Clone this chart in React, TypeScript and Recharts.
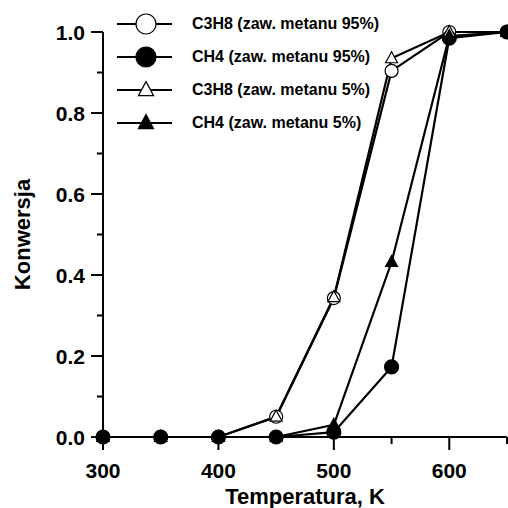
import React from 'react';
import { LineChart, Line, XAxis, YAxis, Legend } from 'recharts';

const temperatures = [300, 350, 400, 450, 500, 550, 600, 650];
const c3h8Met95 = [0, 0, 0, 0.05, 0.343, 0.904, 1.0, 1.0];
const ch4Met95 = [0, 0, 0, 0, 0.012, 0.173, 0.985, 1.0];
const c3h8Met5 = [0, 0, 0, 0.05, 0.345, 0.935, 1.0, 1.0];
const ch4Met5 = [0, 0, 0, 0, 0.03, 0.432, 0.99, 1.0];

const xTicks = [300, 350, 400, 450, 500, 550, 600, 650];
const xLabeled = [300, 400, 500, 600];
const yTicks = [0, 0.1, 0.2, 0.3, 0.4, 0.5, 0.6, 0.7, 0.8, 0.9, 1.0];
const yLabeled = [0, 0.2, 0.4, 0.6, 0.8, 1.0];

const seriesNames = [
  'C3H8 (zaw. metanu 95%)',
  'CH4 (zaw. metanu 95%)',
  'C3H8 (zaw. metanu 5%)',
  'CH4 (zaw. metanu 5%)',
];
const seriesKeys = ['c3h8_95', 'ch4_95', 'c3h8_5', 'ch4_5'];
const seriesShapes = ['circle', 'circle', 'triangle', 'triangle'];
const seriesFilled = [false, true, false, true];

const data = temperatures.map((t, i) => ({
  t,
  c3h8_95: c3h8Met95[i],
  ch4_95: ch4Met95[i],
  c3h8_5: c3h8Met5[i],
  ch4_5: ch4Met5[i],
}));

const FONT = '"Liberation Sans", Arial, Helvetica, sans-serif';

function Marker({ cx, cy, shape, filled, size }: any) {
  const fill = filled ? '#000' : '#fff';
  if (shape === 'circle') {
    return <circle cx={cx} cy={cy} r={size} fill={fill} stroke="#000" strokeWidth={1.2} />;
  }
  const h = size * 1.75;
  const w = size * 1.9;
  const pts = `${cx},${cy - h * 0.6} ${cx - w / 2},${cy + h * 0.4} ${cx + w / 2},${cy + h * 0.4}`;
  return <polygon points={pts} fill={fill} stroke="#000" strokeWidth={1.2} />;
}

const makeDot = (shape: string, filled: boolean) => (props: any) => {
  const { cx, cy, index } = props;
  return (
    <g key={`d-${shape}-${filled}-${index}`}>
      <Marker cx={cx} cy={cy} shape={shape} filled={filled} size={shape === 'circle' ? (filled ? 7 : 6.5) : 6.3} />
    </g>
  );
};

const XTick = (props: any) => {
  const { x, y, payload } = props;
  const v = payload.value;
  const major = xLabeled.includes(v);
  return (
    <g>
      <line x1={x} x2={x} y1={y} y2={y + (major ? 13 : 7)} stroke="#000" strokeWidth={2} />
      {major && (
        <text x={x} y={y + 41} textAnchor="middle" fontSize={21} fontWeight="bold" fontFamily={FONT} fill="#000">
          {v}
        </text>
      )}
    </g>
  );
};

const YTick = (props: any) => {
  const { x, y, payload } = props;
  const v = payload.value;
  const major = yLabeled.some((l) => Math.abs(l - v) < 1e-9);
  return (
    <g>
      <line x1={x} x2={x - (major ? 12 : 6)} y1={y} y2={y} stroke="#000" strokeWidth={2} />
      {major && (
        <text x={x - 18} y={y + 7.5} textAnchor="end" fontSize={21} fontWeight="bold" fontFamily={FONT} fill="#000">
          {v.toFixed(1)}
        </text>
      )}
    </g>
  );
};

const LegendContent = () => (
  <div style={{ fontFamily: FONT }}>
    {seriesNames.map((name, i) => (
      <div key={name} style={{ display: 'flex', alignItems: 'center', height: 33 }}>
        <svg width={75} height={30} style={{ display: 'block' }}>
          <line x1={0} x2={55} y1={15} y2={15} stroke="#000" strokeWidth={2} />
          <Marker
            cx={29}
            cy={15}
            shape={seriesShapes[i]}
            filled={seriesFilled[i]}
            size={seriesShapes[i] === 'circle' ? 10 : 8}
          />
        </svg>
        <span style={{ fontSize: 16, fontWeight: 'bold', color: '#000', whiteSpace: 'nowrap' }}>{name}</span>
      </div>
    ))}
  </div>
);

export default function App() {
  return (
    <div style={{ position: 'absolute', left: 0, top: 0, width: 508, height: 508, background: '#fff' }}>
      <LineChart width={508} height={508} data={data} margin={{ top: 32, right: 1, bottom: 0, left: 0 }}>
        <XAxis
          dataKey="t"
          type="number"
          domain={[300, 650]}
          ticks={xTicks}
          interval={0}
          tickSize={0}
          tickMargin={0}
          tickLine={false}
          axisLine={{ stroke: '#000', strokeWidth: 2 }}
          tick={<XTick />}
          height={71}
          label={{
            content: (p: any) => {
              const vb = p.viewBox || { x: 103, y: 437, width: 404 };
              return (
                <text x={vb.x + vb.width / 2} y={vb.y + 67} textAnchor="middle" fontSize={22} fontWeight="bold" fontFamily={FONT} fill="#000">
                  Temperatura, K
                </text>
              );
            },
          }}
        />
        <YAxis
          type="number"
          domain={[0, 1]}
          ticks={yTicks}
          interval={0}
          width={103}
          tickSize={0}
          tickMargin={0}
          tickLine={false}
          axisLine={{ stroke: '#000', strokeWidth: 2 }}
          tick={<YTick />}
          label={{
            content: (p: any) => {
              const vb = p.viewBox || { x: 0, y: 32, height: 404 };
              const cx = vb.x + 22;
              const cy = vb.y + vb.height / 2;
              return (
                <text x={cx} y={cy} transform={`rotate(-90 ${cx} ${cy})`} textAnchor="middle" dominantBaseline="central" fontSize={22} fontWeight="bold" fontFamily={FONT} fill="#000">
                  Konwersja
                </text>
              );
            },
          }}
        />
        <Legend
          layout="vertical"
          align="center"
          verticalAlign="middle"
          content={<LegendContent />}
          wrapperStyle={{ left: 117, top: 7, width: 300, height: 140 }}
        />
        {seriesKeys.map((k, i) => (
          <Line
            key={k}
            type="linear"
            dataKey={k}
            name={seriesNames[i]}
            stroke="#000"
            strokeWidth={2.2}
            isAnimationActive={false}
            dot={makeDot(seriesShapes[i], seriesFilled[i])}
            activeDot={false}
          />
        ))}
      </LineChart>
    </div>
  );
}
